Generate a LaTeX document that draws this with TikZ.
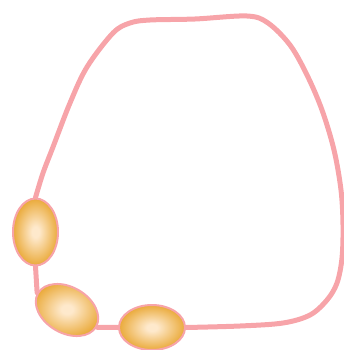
\documentclass[tikz,border=0pt]{standalone}
\usepackage{tikz}
\usetikzlibrary{shapes.geometric, backgrounds}
\definecolor{mypink}{RGB}{247,164,169}
\definecolor{myglow}{RGB}{254,233,204}
\definecolor{myorange}{RGB}{234,170,58}
\pgfdeclareradialshading{beadglow}{\pgfpoint{0bp}{0bp}}{%
  color(0bp)=(myglow); color(4bp)=(myglow); color(25bp)=(myorange);
  color(50bp)=(myorange)}
\tikzset{
  cell/.style={ellipse, draw=mypink, line width=2pt, inner sep=0pt,
    shading=beadglow},
  link/.style={draw=mypink, line width=5pt, line cap=round}
}

\begin{document}
\begin{tikzpicture}[x=1pt, y=-1pt]
  \useasboundingbox (0,0) rectangle (344,350);
  % beads
  \node[cell, minimum width=45pt, minimum height=67pt] (bead1) at (35.5,232) {};
  \node[cell, minimum width=67pt, minimum height=46pt, rotate=-30] (bead2) at (67,310) {};
  \node[cell, minimum width=66pt, minimum height=45pt] (bead3) at (152,327.5) {};

  % strand
  \begin{pgfonlayer}{background}
    \draw[link] (bead1.south) -- (bead2.west);
    \draw[link] (bead2.east) -- (bead3.west);
    \draw[link] plot[smooth, tension=0.55] coordinates {
      (bead3.east) (240,326) (283,323) (310,315) (327,300) (337,283)
      (342,258) (343,225) (341,190) (334,150) (322,110) (307,75)
      (290,45) (268,23) (247,16) (195,19) (150,20) (130,23) (113,33)
      (87,67) (70,103) (53,147) (43,173) (bead1.north)};
  \end{pgfonlayer}
\end{tikzpicture}
\end{document}
